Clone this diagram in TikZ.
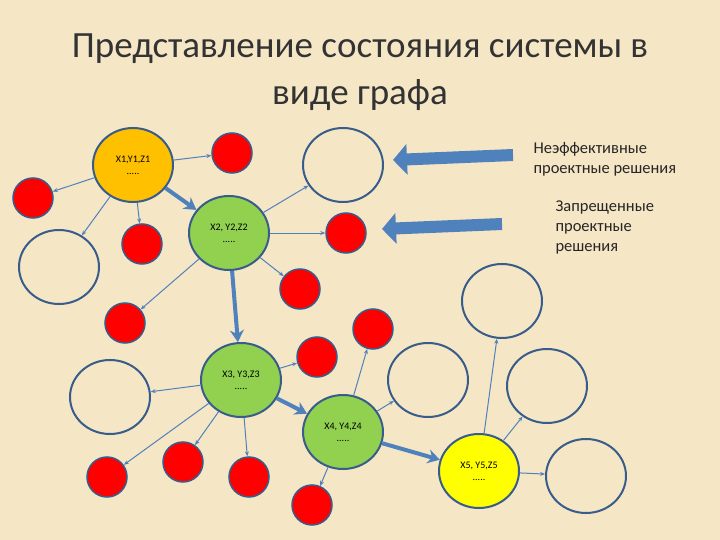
\documentclass[tikz,border=0pt]{standalone}
\usepackage{fontspec}
\setmainfont{Carlito}
\usetikzlibrary{shapes.geometric,arrows.meta}
\definecolor{bg}{RGB}{245,230,198}
\definecolor{edge}{RGB}{79,129,189}
\definecolor{outl}{RGB}{56,93,138}
\definecolor{redf}{RGB}{255,0,0}
\definecolor{orangef}{RGB}{255,192,0}
\definecolor{greenf}{RGB}{146,208,80}
\definecolor{yellowf}{RGB}{255,255,0}
\tikzset{
  big/.style={ellipse,draw=outl,line width=2pt,minimum width=80pt,minimum height=74pt,inner sep=0pt,font=\fontsize{10}{12}\selectfont,align=center},
  empty/.style={big},
  redn/.style={circle,draw=outl,line width=1.5pt,fill=redf,minimum size=40pt,inner sep=0pt},
  thin/.style={draw=edge,line width=1pt,-{Stealth[length=5pt,width=4pt]}},
  thick/.style={draw=edge,line width=4pt,-{Stealth[length=12pt,width=14pt]}},
  fat/.style={draw=edge,line width=12pt,-{Triangle[length=14pt,width=30pt]}},
  lab/.style={font=\fontsize{16.5}{20}\selectfont,align=left,anchor=west,text=black!85}
}
\begin{document}
\begin{tikzpicture}[x=1pt,y=-1pt]
\fill[bg] (0,0) rectangle (720,540);
\useasboundingbox (0,0) rectangle (720,540);
\node[font=\fontsize{37}{47}\selectfont,align=center,text=black!80] (title) at (360,72) {Представление состояния системы в\\виде графа};
\node[big,fill=orangef] (x1) at (133,165) {X1,Y1,Z1\\.....};
\node[big,fill=greenf] (x2) at (229,233) {X2, Y2,Z2\\.....};
\node[big,fill=greenf] (x3) at (241,380) {X3, Y3,Z3\\.....};
\node[big,fill=greenf] (x4) at (343,432) {X4, Y4,Z4\\.....};
\node[big,fill=yellowf] (x5) at (479,471) {X5, Y5,Z5\\.....};
\node[empty] (w1) at (343,165) {};
\node[empty] (w2) at (59,267) {};
\node[empty] (w3) at (110,397) {};
\node[empty] (w4) at (428,380) {};
\node[empty] (w5) at (502,301) {};
\node[empty] (w6) at (547,386) {};
\node[empty] (w7) at (586,476) {};
\node[redn] (ra) at (232,153) {};
\node[redn] (rb) at (33,198) {};
\node[redn] (rc) at (142,244) {};
\node[redn] (rd) at (346,233) {};
\node[redn] (re) at (300,289) {};
\node[redn] (rf) at (125,323) {};
\node[redn] (rg) at (317,357) {};
\node[redn] (rh) at (373,329) {};
\node[redn] (ri) at (107,477) {};
\node[redn] (rj) at (183,462) {};
\node[redn] (rk) at (249,477) {};
\node[redn] (rl) at (312,505) {};
\foreach \a/\b in {x1/ra,x1/rb,x1/w2,x1/rc,x2/w1,x2/rd,x2/re,x2/rf,x3/w3,x3/rg,x3/ri,x3/rj,x3/rk,x4/rh,x4/w4,x4/rl,x5/w5,x5/w6,x5/w7}
  \draw[thin] (\a) -- (\b);
\draw[thick] (x1) -- (x2);
\draw[thick] (x2) -- (x3);
\draw[thick] (x3) -- (x4);
\draw[thick] (x4) -- (x5);
\coordinate (t1) at (513,155);
\coordinate (h1) at (393,160);
\coordinate (t2) at (502,224);
\coordinate (h2) at (382,229);
\draw[fat] (t1) -- (h1);
\draw[fat] (t2) -- (h2);
\node[lab] (l1) at (530,159) {Неэффективные\\проектные решения};
\node[lab] (l2) at (552,227) {Запрещенные\\проектные\\решения};
\end{tikzpicture}
\end{document}
